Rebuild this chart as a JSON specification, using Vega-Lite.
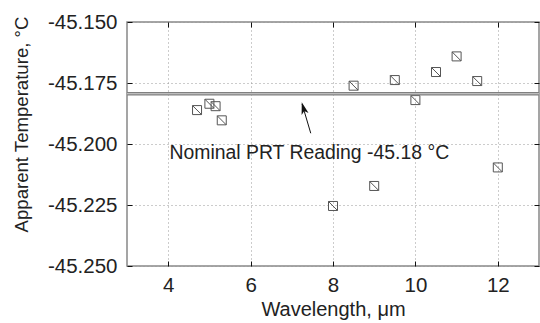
{
  "$schema": "https://vega.github.io/schema/vega-lite/v6.json",
  "width": 412,
  "height": 244,
  "autosize": {"type": "none"},
  "padding": {"left": 127, "top": 22, "right": 1, "bottom": 57},
  "config": {
    "font": "Liberation Sans",
    "view": {"stroke": "#888", "strokeWidth": 1.5},
    "axis": {
      "labelFont": "Liberation Sans",
      "titleFont": "Liberation Sans",
      "labelColor": "#222",
      "titleColor": "#222",
      "titleFontWeight": "normal",
      "labelFontSize": 20.5,
      "titleFontSize": 20,
      "domain": false,
      "tickColor": "#111",
      "tickSize": -5,
      "gridColor": "#999",
      "gridDash": [1, 3],
      "gridWidth": 1
    }
  },
  "datasets": {
    "points": [
      {"x": 4.7, "y": -45.1861},
      {"x": 5.0, "y": -45.1835},
      {"x": 5.15, "y": -45.1845},
      {"x": 5.3, "y": -45.1903},
      {"x": 8.0, "y": -45.2254},
      {"x": 8.5, "y": -45.1761},
      {"x": 9.0, "y": -45.2172},
      {"x": 9.5, "y": -45.1738},
      {"x": 10.0, "y": -45.182},
      {"x": 10.5, "y": -45.1705},
      {"x": 11.0, "y": -45.1641},
      {"x": 11.5, "y": -45.1742},
      {"x": 12.0, "y": -45.2096}
    ],
    "nominal": [{"y": -45.1794}],
    "arrow": [{"x": 7.46, "y": -45.1956, "x2": 7.25, "y2": -45.1836}],
    "head": [{"x": 7.282, "y": -45.1853}],
    "note": [{"x": 4.03, "y": -45.2061, "label": "Nominal PRT Reading -45.18 °C"}]
  },
  "layer": [
    {
      "data": {"name": "points"},
      "mark": {
        "type": "point",
        "shape": "M-1,-1H1V1H-1Z M-1,-1L1,1",
        "size": 81,
        "filled": false,
        "stroke": "#555",
        "strokeWidth": 1,
        "opacity": 1
      },
      "encoding": {
        "x": {
          "field": "x",
          "type": "quantitative",
          "scale": {"domain": [3, 13], "nice": false, "zero": false},
          "axis": {
            "orient": "bottom",
            "values": [4, 6, 8, 10, 12],
            "title": "Wavelength, μm",
            "grid": true,
            "labelPadding": 14,
            "titleBaseline": "alphabetic",
            "titleY": 49
          }
        },
        "y": {
          "field": "y",
          "type": "quantitative",
          "scale": {"domain": [-45.25, -45.15], "nice": false, "zero": false},
          "axis": {
            "orient": "left",
            "values": [-45.25, -45.225, -45.2, -45.175, -45.15],
            "labelExpr": "replace(format(datum.value, '.3f'), '−', '-')",
            "title": "Apparent Temperature, °C",
            "titleFontSize": 18.6,
            "grid": true,
            "labelPadding": 15,
            "titleAngle": -90,
            "titleBaseline": "alphabetic",
            "titleAlign": "center",
            "titleX": -100,
            "titleY": 102
          }
        }
      }
    },
    {
      "data": {"name": "points"},
      "mark": {"type": "point", "opacity": 0},
      "encoding": {
        "x": {
          "field": "x",
          "type": "quantitative",
          "axis": {"orient": "top", "values": [4, 6, 8, 10, 12], "labels": false, "title": null, "grid": false}
        },
        "y": {
          "field": "y",
          "type": "quantitative",
          "axis": {"orient": "right", "values": [-45.25, -45.225, -45.2, -45.175, -45.15], "labels": false, "title": null, "grid": false}
        }
      }
    },
    {
      "data": {"name": "nominal"},
      "mark": {"type": "rule", "stroke": "#808080", "strokeWidth": 3.5},
      "encoding": {"y": {"field": "y", "type": "quantitative", "axis": null}}
    },
    {
      "data": {"name": "nominal"},
      "mark": {"type": "rule", "stroke": "#d0d0d0", "strokeWidth": 1},
      "encoding": {"y": {"field": "y", "type": "quantitative", "axis": null}}
    },
    {
      "data": {"name": "arrow"},
      "mark": {"type": "rule", "stroke": "#111", "strokeWidth": 1},
      "encoding": {
        "x": {"field": "x", "type": "quantitative", "axis": null},
        "y": {"field": "y", "type": "quantitative", "axis": null},
        "x2": {"field": "x2"},
        "y2": {"field": "y2"}
      }
    },
    {
      "data": {"name": "head"},
      "mark": {
        "type": "point",
        "shape": "M0,-1L-0.6,1L0,0.5L0.6,1Z",
        "size": 144,
        "filled": true,
        "fill": "#111",
        "opacity": 1,
        "angle": -16
      },
      "encoding": {
        "x": {"field": "x", "type": "quantitative", "axis": null},
        "y": {"field": "y", "type": "quantitative", "axis": null}
      }
    },
    {
      "data": {"name": "note"},
      "mark": {
        "type": "text",
        "align": "left",
        "baseline": "alphabetic",
        "font": "Liberation Sans",
        "fontSize": 19.4,
        "fill": "#222"
      },
      "encoding": {
        "x": {"field": "x", "type": "quantitative", "axis": null},
        "y": {"field": "y", "type": "quantitative", "axis": null},
        "text": {"field": "label"}
      }
    }
  ],
  "resolve": {"axis": {"x": "independent", "y": "independent"}}
}
